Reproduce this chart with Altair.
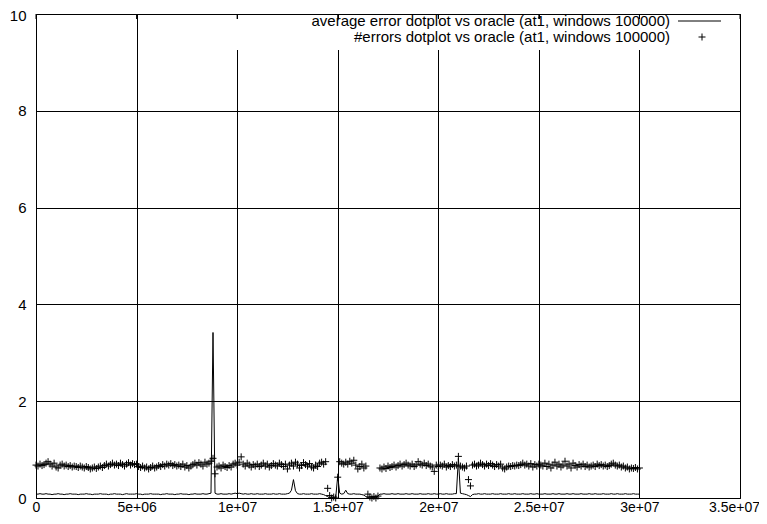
import altair as alt
import pandas as pd

# window start positions (windows of 100000)
window_start = list(range(0, 30_000_001, 100_000))

avg_error = [
    0.08, 0.08, 0.09, 0.08, 0.08, 0.09, 0.08, 0.08, 0.07, 0.08,
    0.08, 0.09, 0.08, 0.08, 0.07, 0.08, 0.08, 0.09, 0.08, 0.08,
    0.08, 0.07, 0.08, 0.08, 0.08, 0.09, 0.08, 0.08, 0.07, 0.08,
    0.08, 0.08, 0.09, 0.08, 0.08, 0.08, 0.07, 0.08, 0.08, 0.09,
    0.08, 0.08, 0.08, 0.07, 0.08, 0.09, 0.08, 0.08, 0.08, 0.08,
    0.09, 0.08, 0.08, 0.07, 0.08, 0.08, 0.08, 0.09, 0.08, 0.08,
    0.08, 0.08, 0.07, 0.08, 0.08, 0.09, 0.08, 0.08, 0.08, 0.07,
    0.08, 0.08, 0.09, 0.08, 0.08, 0.08, 0.07, 0.08, 0.08, 0.09,
    0.08, 0.08, 0.08, 0.09, 0.08, 0.08, 0.09, 0.10, 3.42, 0.10,
    0.08, 0.08, 0.09, 0.08, 0.08, 0.08, 0.09, 0.08, 0.09, 0.10,
    0.09, 0.10, 0.09, 0.08, 0.09, 0.08, 0.08, 0.09, 0.08, 0.08,
    0.09, 0.08, 0.08, 0.08, 0.09, 0.08, 0.08, 0.08, 0.09, 0.08,
    0.08, 0.09, 0.08, 0.08, 0.08, 0.09, 0.10, 0.16, 0.38, 0.15,
    0.09, 0.08, 0.08, 0.09, 0.08, 0.08, 0.08, 0.09, 0.08, 0.08,
    0.08, 0.09, 0.08, 0.07, 0.05, 0.03, 0.00, 0.02, 0.00, 0.01,
    0.45, 0.10, 0.08, 0.09, 0.16, 0.09, 0.08, 0.08, 0.09, 0.08,
    0.08, 0.08, 0.07, 0.06, 0.03, 0.01, 0.03, 0.00, 0.02, 0.00,
    0.04, 0.08, 0.08, 0.09, 0.08, 0.08, 0.08, 0.09, 0.08, 0.08,
    0.09, 0.08, 0.08, 0.08, 0.09, 0.08, 0.08, 0.09, 0.08, 0.08,
    0.08, 0.09, 0.08, 0.08, 0.08, 0.09, 0.08, 0.08, 0.09, 0.08,
    0.08, 0.09, 0.08, 0.08, 0.09, 0.08, 0.08, 0.08, 0.09, 0.09,
    0.82, 0.10, 0.09, 0.08, 0.07, 0.05, 0.03, 0.07, 0.08, 0.08,
    0.09, 0.08, 0.08, 0.09, 0.08, 0.08, 0.08, 0.09, 0.08, 0.08,
    0.08, 0.09, 0.08, 0.08, 0.08, 0.09, 0.08, 0.08, 0.09, 0.08,
    0.08, 0.08, 0.09, 0.08, 0.08, 0.08, 0.09, 0.08, 0.08, 0.09,
    0.08, 0.08, 0.08, 0.09, 0.08, 0.08, 0.08, 0.09, 0.08, 0.08,
    0.09, 0.08, 0.08, 0.08, 0.09, 0.08, 0.08, 0.09, 0.08, 0.08,
    0.08, 0.09, 0.08, 0.08, 0.08, 0.09, 0.08, 0.08, 0.09, 0.08,
    0.08, 0.08, 0.09, 0.08, 0.08, 0.08, 0.09, 0.08, 0.08, 0.09,
    0.08, 0.08, 0.08, 0.09, 0.08, 0.08, 0.08, 0.09, 0.08, 0.08, 0.08,
]

n_errors = [
    0.68, 0.66, 0.70, 0.67, 0.69, 0.72, 0.75, 0.70, 0.66, 0.72,
    0.64, 0.62, 0.68, 0.70, 0.66, 0.68, 0.65, 0.67, 0.64, 0.66,
    0.65, 0.63, 0.66, 0.64, 0.62, 0.65, 0.63, 0.60, 0.62, 0.64,
    0.61, 0.64, 0.66, 0.63, 0.67, 0.70, 0.66, 0.69, 0.72, 0.68,
    0.70, 0.67, 0.72, 0.69, 0.66, 0.70, 0.73, 0.68, 0.71, 0.69,
    0.70, 0.65, 0.63, 0.66, 0.62, 0.64, 0.60, 0.63, 0.66, 0.62,
    0.64, 0.67, 0.65, 0.69, 0.66, 0.70, 0.68, 0.71, 0.67, 0.69,
    0.66, 0.68, 0.65, 0.70, 0.64, 0.67, 0.62, 0.66, 0.69, 0.72,
    0.68, 0.73, 0.70, 0.66, 0.74, 0.70, 0.72, 0.76, 0.82, 0.50,
    0.64, 0.66, 0.62, 0.68, 0.65, 0.63, 0.67, 0.64, 0.70, 0.72,
    0.68, 0.74, 0.85, 0.70, 0.66, 0.72, 0.68, 0.64, 0.69, 0.66,
    0.70, 0.65, 0.68, 0.72, 0.66, 0.70, 0.64, 0.67, 0.71, 0.68,
    0.66, 0.72, 0.69, 0.65, 0.70, 0.60, 0.68, 0.72, 0.66, 0.74,
    0.70, 0.62, 0.67, 0.73, 0.69, 0.66, 0.71, 0.64, 0.62, 0.68,
    0.65, 0.72, 0.74, 0.70, 0.75, 0.20, 0.05, 0.00, 0.02, 0.00,
    0.43, 0.75, 0.72, 0.70, 0.74, 0.70, 0.76, 0.72, 0.78, 0.68,
    0.60, 0.65, 0.70, 0.62, 0.66, 0.08, 0.02, 0.00, 0.03, 0.00,
    0.04, 0.62, 0.60, 0.64, 0.61, 0.66, 0.63, 0.65, 0.68, 0.64,
    0.67, 0.70, 0.66, 0.69, 0.72, 0.68, 0.66, 0.70, 0.65, 0.68,
    0.75, 0.70, 0.68, 0.72, 0.67, 0.70, 0.66, 0.64, 0.55, 0.68,
    0.65, 0.68, 0.66, 0.70, 0.64, 0.67, 0.65, 0.69, 0.66, 0.68,
    0.86, 0.66, 0.64, 0.62, 0.66, 0.38, 0.25, 0.68, 0.70, 0.66,
    0.68, 0.72, 0.69, 0.66, 0.70, 0.67, 0.71, 0.68, 0.65, 0.69,
    0.66, 0.70, 0.62, 0.60, 0.64, 0.66, 0.65, 0.67, 0.66, 0.68,
    0.67, 0.69, 0.72, 0.68, 0.70, 0.66, 0.71, 0.64, 0.69, 0.66,
    0.70, 0.68, 0.66, 0.72, 0.65, 0.70, 0.62, 0.68, 0.74, 0.66,
    0.70, 0.64, 0.68, 0.76, 0.66, 0.70, 0.62, 0.72, 0.67, 0.64,
    0.69, 0.66, 0.70, 0.65, 0.68, 0.64, 0.66, 0.68, 0.65, 0.70,
    0.67, 0.69, 0.66, 0.68, 0.65, 0.67, 0.70, 0.72, 0.68, 0.66,
    0.68, 0.64, 0.66, 0.62, 0.64, 0.60, 0.62, 0.61, 0.63, 0.60, 0.62,
]

x_ticks = [0, 5_000_000, 10_000_000, 15_000_000, 20_000_000, 25_000_000, 30_000_000, 35_000_000]
x_tick_labels = ["0", "5e+06", "1e+07", "1.5e+07", "2e+07", "2.5e+07", "3e+07", "3.5e+07"]
y_ticks = [0, 2, 4, 6, 8, 10]
legend_labels = [
    "average error dotplot vs oracle (at1, windows 100000)",
    "#errors dotplot vs oracle (at1, windows 100000)",
]

df = pd.DataFrame({"x": window_start, "avg": avg_error, "err": n_errors})
tick_df = pd.DataFrame({"x": x_ticks})

FONT = "Liberation Sans"
FS = 15
XFS = 14
W, H = 704, 484

label_expr = "".join(
    f"datum.value == {int(v)} ? '{l}' : " for v, l in zip(x_ticks, x_tick_labels)
) + "''"

xscale = alt.Scale(domain=[0, 35_000_000], nice=False, zero=False)
yscale = alt.Scale(domain=[0, 10], nice=False)

x_enc = alt.X(
    "x:Q", scale=xscale,
    axis=alt.Axis(
        values=x_ticks, labelExpr=label_expr, grid=True, ticks=False,
        domain=False, title=None, labelPadding=2, labelFlush=False,
        labelOverlap=False, labelFontSize=XFS,
        labelOffset={"condition": {"test": f"datum.value == {int(x_ticks[-1])}", "value": -6}, "value": 0},
    ),
)

def y_enc(field):
    return alt.Y(
        f"{field}:Q", scale=yscale,
        axis=alt.Axis(
            values=y_ticks, grid=True, ticks=False, domain=False,
            title=None, labelPadding=10, labelOverlap=False,
            labelOffset={"condition": {"test": f"datum.value == {y_ticks[-1]}", "value": 1}, "value": 0},
        ),
    )

line = alt.Chart(df).mark_line(color="black", strokeWidth=1).encode(
    x=x_enc, y=y_enc("avg")
)

PLUS = "M-1,0L1,0M0,-1L0,1"
points = alt.Chart(df).mark_point(
    shape=PLUS, size=49, filled=False, color="black", strokeWidth=1, opacity=1
).encode(x=x_enc, y=y_enc("err"))

mask = alt.Chart(pd.DataFrame({"k": [0]})).mark_rect(color="white", opacity=1).encode(
    x=alt.value(160), x2=alt.value(W - 1), y=alt.value(5), y2=alt.value(36)
)

top_ticks = alt.Chart(tick_df).mark_rule(color="black", strokeWidth=1).encode(
    x=x_enc, y=alt.value(0), y2=alt.value(5)
)

one = pd.DataFrame({"k": [0]})

leg_text1 = alt.Chart(one).mark_text(
    align="right", baseline="middle", font=FONT, fontSize=FS, color="black",
    text=legend_labels[0],
).encode(x=alt.value(634), y=alt.value(7))

leg_text2 = alt.Chart(one).mark_text(
    align="right", baseline="middle", font=FONT, fontSize=FS, color="black",
    text=legend_labels[1],
).encode(x=alt.value(634), y=alt.value(23))

leg_line = alt.Chart(one).mark_rule(color="black", strokeWidth=1).encode(
    x=alt.value(642), x2=alt.value(685), y=alt.value(7)
)

leg_plus = alt.Chart(one).mark_point(
    shape=PLUS, size=49, filled=False, color="black", strokeWidth=1, opacity=1
).encode(x=alt.value(666), y=alt.value(23))

chart = alt.layer(
    line, points, mask, top_ticks, leg_text1, leg_text2, leg_line, leg_plus
).properties(
    width=W, height=H, autosize="none",
    padding={"left": 28, "top": 6, "right": 19, "bottom": 18},
).configure_view(
    stroke="black", strokeWidth=1
).configure_axis(
    gridColor="black", gridOpacity=1, gridWidth=1,
    labelFont=FONT, labelFontSize=FS, labelColor="black",
)

chart.save("out.html", embed_options={"renderer": "svg", "actions": False})
